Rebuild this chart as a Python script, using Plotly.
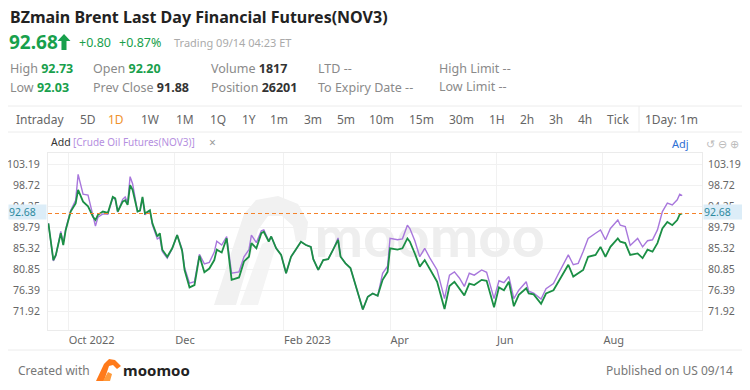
import plotly.graph_objects as go

# ---------------- data ----------------
dates = [
    "2022-09-21", "2022-09-23", "2022-09-26", "2022-09-28", "2022-09-29", "2022-09-30",
    "2022-10-04", "2022-10-06", "2022-10-07", "2022-10-11", "2022-10-13", "2022-10-17",
    "2022-10-18", "2022-10-19", "2022-10-21", "2022-10-25", "2022-10-27", "2022-10-28",
    "2022-10-31", "2022-11-02", "2022-11-03", "2022-11-04", "2022-11-07", "2022-11-08",
    "2022-11-10", "2022-11-11", "2022-11-14", "2022-11-15", "2022-11-17", "2022-11-18",
    "2022-11-22", "2022-11-23", "2022-11-24", "2022-11-28", "2022-11-30", "2022-12-02",
    "2022-12-06", "2022-12-07", "2022-12-09", "2022-12-13", "2022-12-15", "2022-12-19",
    "2022-12-21", "2022-12-23", "2022-12-26", "2022-12-28", "2022-12-30", "2023-01-03",
    "2023-01-06", "2023-01-10", "2023-01-12", "2023-01-13", "2023-01-17", "2023-01-19",
    "2023-01-20", "2023-01-24", "2023-01-25", "2023-01-27", "2023-01-31", "2023-02-02",
    "2023-02-06", "2023-02-08", "2023-02-10", "2023-02-14", "2023-02-16", "2023-02-17",
    "2023-02-21", "2023-02-23", "2023-02-27", "2023-03-01", "2023-03-03", "2023-03-06",
    "2023-03-08", "2023-03-10", "2023-03-15", "2023-03-17", "2023-03-21", "2023-03-23",
    "2023-03-27", "2023-03-29", "2023-03-31", "2023-04-03", "2023-04-06", "2023-04-10",
    "2023-04-12", "2023-04-13", "2023-04-17", "2023-04-19", "2023-04-21", "2023-04-25",
    "2023-04-28", "2023-05-03", "2023-05-05", "2023-05-09", "2023-05-11", "2023-05-15",
    "2023-05-17", "2023-05-19", "2023-05-24", "2023-05-26", "2023-05-31", "2023-06-02",
    "2023-06-06", "2023-06-08", "2023-06-12", "2023-06-14", "2023-06-19", "2023-06-20",
    "2023-06-22", "2023-06-27", "2023-06-29", "2023-07-04", "2023-07-06", "2023-07-10",
    "2023-07-12", "2023-07-14", "2023-07-18", "2023-07-20", "2023-07-24", "2023-07-27",
    "2023-07-31", "2023-08-02", "2023-08-04", "2023-08-09", "2023-08-10", "2023-08-14",
    "2023-08-16", "2023-08-21", "2023-08-23", "2023-08-25", "2023-08-29", "2023-08-31",
    "2023-09-04", "2023-09-06", "2023-09-08", "2023-09-12", "2023-09-13", "2023-09-14",
]

brent_main = [
    90.6, 82.8, 83.9, 88.5, 86.0, 89.2,
    93.1, 94.8, 97.7, 95.2, 94.2, 92.0,
    91.3, 92.4, 93.1, 92.8, 96.2, 95.9,
    93.1, 95.2, 95.5, 94.5, 98.7, 97.7,
    93.1, 93.3, 96.2, 92.7, 93.4, 90.6,
    87.8, 88.5, 85.0, 83.5, 85.3, 88.1,
    84.8, 80.7, 77.0, 77.5, 83.7, 80.2,
    81.0, 82.8, 85.0, 84.4, 87.4, 78.6,
    79.1, 82.5, 83.5, 86.4, 85.3, 88.5,
    88.8, 86.7, 87.8, 85.3, 83.9, 80.0,
    83.5, 85.0, 86.7, 86.0, 85.6, 83.0,
    80.7, 82.8, 83.0, 85.0, 87.1, 83.5,
    82.1, 81.1, 75.7, 72.3, 75.0, 75.7,
    75.2, 78.6, 80.3, 85.3, 85.0, 85.3,
    87.4, 86.7, 84.2, 81.4, 82.8, 80.9,
    78.2, 72.4, 77.3, 78.2, 76.8, 75.3,
    77.8, 77.5, 78.6, 78.4, 72.8, 77.0,
    76.4, 78.2, 73.0, 75.4, 76.8, 75.7,
    75.5, 73.5, 75.7, 76.4, 78.2, 80.0,
    81.8, 79.3, 80.0, 80.7, 83.5, 83.9,
    85.6, 83.5, 85.6, 87.4, 86.7, 86.4,
    83.9, 84.2, 83.2, 85.0, 84.6, 86.4,
    89.5, 90.9, 90.2, 91.3, 92.5, 92.68,
]

crude_nov3 = [
    90.6, 82.6, 83.7, 88.9, 86.5, 89.4,
    93.3, 95.5, 101.0, 96.8, 96.6, 92.6,
    90.0, 91.9, 92.6, 92.5, 96.0, 95.7,
    93.0, 95.7, 96.2, 95.0, 100.5, 99.0,
    93.1, 93.3, 96.0, 92.4, 93.3, 90.3,
    87.3, 87.6, 84.6, 83.2, 85.2, 88.1,
    85.1, 81.2, 77.9, 78.2, 84.0, 82.0,
    82.3, 84.5, 86.8, 86.0, 87.8, 80.0,
    80.3, 83.5, 85.0, 88.1, 86.5, 89.0,
    89.2, 86.9, 87.8, 85.3, 83.9, 80.0,
    83.5, 85.0, 86.7, 86.0, 85.6, 83.0,
    80.7, 82.8, 83.0, 85.0, 87.5, 83.6,
    82.1, 81.1, 75.7, 72.3, 75.0, 75.7,
    75.2, 80.0, 81.5, 87.4, 87.1, 87.3,
    90.2, 89.5, 86.9, 83.5, 85.3, 83.3,
    80.7, 74.6, 79.6, 80.3, 79.0, 77.2,
    80.0, 79.6, 80.7, 80.2, 74.6, 78.4,
    78.0, 79.3, 74.6, 76.4, 78.2, 76.2,
    75.8, 74.5, 76.7, 77.8, 79.9, 81.8,
    83.9, 81.8, 82.1, 84.6, 87.4, 88.5,
    89.2, 87.1, 89.5, 91.3, 90.2, 89.9,
    85.9, 87.4, 85.6, 86.9, 87.1, 89.2,
    93.1, 94.9, 94.5, 95.6, 96.8, 96.5,
]

y_ticks = [71.92, 76.39, 80.85, 85.32, 89.79, 94.25, 98.72, 103.19]
x_tick_dates = ["2022-10-03", "2022-12-01", "2023-02-01", "2023-04-03", "2023-06-01", "2023-08-01"]
x_tick_labels = ["Oct 2022", "Dec", "Feb 2023", "Apr", "Jun", "Aug"]
last_price = 92.68

tabs = ["Intraday", "5D", "1D", "1W", "1M", "1Q", "1Y", "1m", "3m", "5m", "10m",
        "15m", "30m", "1H", "2h", "3h", "4h", "Tick"]

# ---------------- geometry (screen pixels; page body has an 8px margin) ----------------
SW, SH = 750, 390
OFF = 8
W, H = SW - OFF, SH - OFF
L, R, T, B = 48, 702, 153, 330
FONT = "Noto Sans, Open Sans, sans-serif"
GREEN = "#18a04c"
LINE_GREEN = "#1b8f45"
PURPLE = "#a877dc"
GRAY = "#8a8a8a"


def px(x):
    return (x - L) / (R - L)


def py(y):
    return (B - y) / (B - T)


annotations = []


def txt(x, y, s, size=12, color="#333", anchor="left", bold=False, family=FONT, bg=None, h=None, w=None):
    a = dict(x=px(x), y=py(y), xref="paper", yref="paper", text=f"<b>{s}</b>" if bold else s,
             showarrow=False, xanchor=anchor, yanchor="middle", align=anchor if anchor != "center" else "center",
             font=dict(size=size, color=color, family=family), borderpad=0)
    if bg:
        a["bgcolor"] = bg
    if h:
        a["height"] = h
    if w:
        a["width"] = w
    annotations.append(a)


shapes = []


def hline(y, x0=0, x1=SW, color="#ececec"):
    shapes.append(dict(type="line", xref="paper", yref="paper", x0=px(x0), x1=px(x1),
                       y0=py(y), y1=py(y), line=dict(color=color, width=1)))


def path(points, color, layer="below"):
    d = "M " + " L ".join(f"{px(a):.4f},{py(b):.4f}" for a, b in points) + " Z"
    shapes.append(dict(type="path", xref="paper", yref="paper", path=d,
                       fillcolor=color, line=dict(width=0), layer=layer))


# ---------------- figure ----------------
fig = go.Figure()
# watermark text, drawn first so that it sits beneath the price lines
fig.add_trace(go.Scatter(x=["2023-04-25"], y=[86.6], mode="text", text=["<b>moomoo</b>"],
                         textposition="middle center", yaxis="y",
                         textfont=dict(size=58, color="#eeeeee", family="Lato, Noto Sans, sans-serif"),
                         hoverinfo="skip", showlegend=False))
fig.add_trace(go.Scatter(x=dates, y=crude_nov3, mode="lines", yaxis="y",
                         line=dict(color=PURPLE, width=1.4), hoverinfo="skip", showlegend=False))
fig.add_trace(go.Scatter(x=dates, y=brent_main, mode="lines", yaxis="y2",
                         line=dict(color=LINE_GREEN, width=1.8), hoverinfo="skip", showlegend=False))

yr = [67.95, 105.53]
fig.update_layout(
    width=W, height=H,
    margin=dict(l=L - OFF, r=SW - R, t=T - OFF, b=SH - B, autoexpand=False),
    paper_bgcolor="white", plot_bgcolor="white",
    font=dict(family=FONT, size=11, color="#666"),
    xaxis=dict(type="date", range=["2022-09-20 20:00", "2023-09-26"],
               rangebreaks=[dict(bounds=["sat", "mon"])],
               tickvals=x_tick_dates, ticktext=x_tick_labels,
               ticklabelposition="outside right", automargin=False,
               showgrid=True, gridcolor="#f1f1f1", gridwidth=1,
               showline=True, mirror=True, linecolor="#ebebeb",
               ticks="", tickfont=dict(size=11, color="#666"), zeroline=False),
    yaxis=dict(range=yr, tickvals=y_ticks, ticktext=[f"{v:.2f}" for v in y_ticks],
               showgrid=True, gridcolor="#f1f1f1", zeroline=False, automargin=False,
               showline=True, mirror=True, linecolor="#ebebeb",
               ticks="", ticklabelstandoff=5, tickfont=dict(size=10.5, color="#666")),
    yaxis2=dict(range=yr, overlaying="y", side="right", tickvals=y_ticks, automargin=False,
                ticktext=[f"{v:.2f}" for v in y_ticks], showgrid=False, zeroline=False,
                ticks="", ticklabelstandoff=5, tickfont=dict(size=10.5, color="#666")),
)

# last price dashed line
shapes.append(dict(type="line", xref="paper", yref="y", x0=0, x1=1, y0=last_price, y1=last_price,
                   line=dict(color="#f5822a", width=1.2, dash="4px,3px")))

# watermark logo
path([(214, 305), (244, 214), (256, 200), (278, 196), (298, 204), (308, 222), (306, 240),
      (296, 242), (293, 226), (282, 216), (268, 216), (258, 230), (236, 305)], "#f1f1f1")
path([(240, 305), (262, 244), (270, 240), (276, 246), (258, 305)], "#f4f4f4")

# header
txt(9, 17, "BZmain Brent Last Day Financial Futures(NOV3)", size=16, color="#222", bold=True)
txt(8, 42, "92.68", size=19, color=GREEN, bold=True)
path([(64, 34), (70.5, 41), (66.5, 41), (66.5, 50), (61.5, 50), (61.5, 41), (57.5, 41)], GREEN, layer="above")
txt(78, 43, "+0.80", size=12.5, color=GREEN)
txt(118, 43, "+0.87%", size=12.5, color=GREEN)
txt(173, 43, "Trading 09/14 04:23 ET", size=11, color="#aaa")

txt(9, 69, "High <b><span style='color:%s'>92.73</span></b>" % GREEN, size=12.5, color=GRAY)
txt(9, 87, "Low <b><span style='color:%s'>92.03</span></b>" % GREEN, size=12.5, color=GRAY)
txt(92, 69, "Open <b><span style='color:%s'>92.20</span></b>" % GREEN, size=12.5, color=GRAY)
txt(92, 87, "Prev Close <b><span style='color:#333'>91.88</span></b>", size=12.5, color=GRAY)
txt(210, 69, "Volume <b><span style='color:#333'>1817</span></b>", size=12.5, color=GRAY)
txt(210, 87, "Position <b><span style='color:#333'>26201</span></b>", size=12.5, color=GRAY)
txt(317, 69, "LTD --", size=12.5, color=GRAY)
txt(317, 87, "To Expiry Date --", size=12.5, color=GRAY)
txt(438, 68, "High Limit --", size=12.5, color=GRAY)
txt(438, 86, "Low Limit --", size=12.5, color=GRAY)

# tabs
hline(106, x0=OFF)
hline(132, x0=OFF)
shapes.append(dict(type="line", xref="paper", yref="paper", x0=px(639), x1=px(639),
                   y0=py(106), y1=py(132), line=dict(color="#ececec", width=1)))
tab_x = [15, 79, 107, 140, 175, 209, 241, 269, 303, 336, 368, 408, 448, 488, 519, 548, 577, 606]
for t, x in zip(tabs, tab_x):
    txt(x, 119, t, size=12, color="#f0922b" if t == "1D" else "#666")
txt(644, 119, "1Day: 1m", size=12, color="#666")

# compare row
txt(50, 142, "Add", size=10.5, color="#333")
txt(72, 142, "[Crude Oil Futures(NOV3)]", size=10, color="#b58fe0")
txt(208, 142, "×", size=12, color="#999")
txt(671, 143, "Adj", size=11, color="#2e6fd4")
txt(705, 143, "↺ ⊖ ⊕", size=11, color="#bbb")

# last-price tags
txt(8, 212.3, "92.68", size=10.5, color="#2d8aa0", bg="#dcedf8", h=14, w=37)
txt(703, 212.3, "92.68", size=10.5, color="#2d8aa0", bg="#dcedf8", h=14, w=47)

# footer
hline(350, x0=OFF)
txt(17, 370, "Created with", size=12, color="#777")
path([(96, 381), (104, 364), (109, 359), (115, 360), (121, 366), (117, 369), (113, 365), (109, 366), (104, 381)], "#ff7a1a", layer="above")
path([(103, 381), (108, 372), (112, 374), (110, 381)], "#ff9a3a", layer="above")
txt(122, 370, "moomoo", size=15, color="#222", bold=True)
txt(734, 370, "Published on US 09/14", size=12, color="#777", anchor="right")

fig.update_layout(annotations=annotations, shapes=shapes)
fig.write_html("out.html")
